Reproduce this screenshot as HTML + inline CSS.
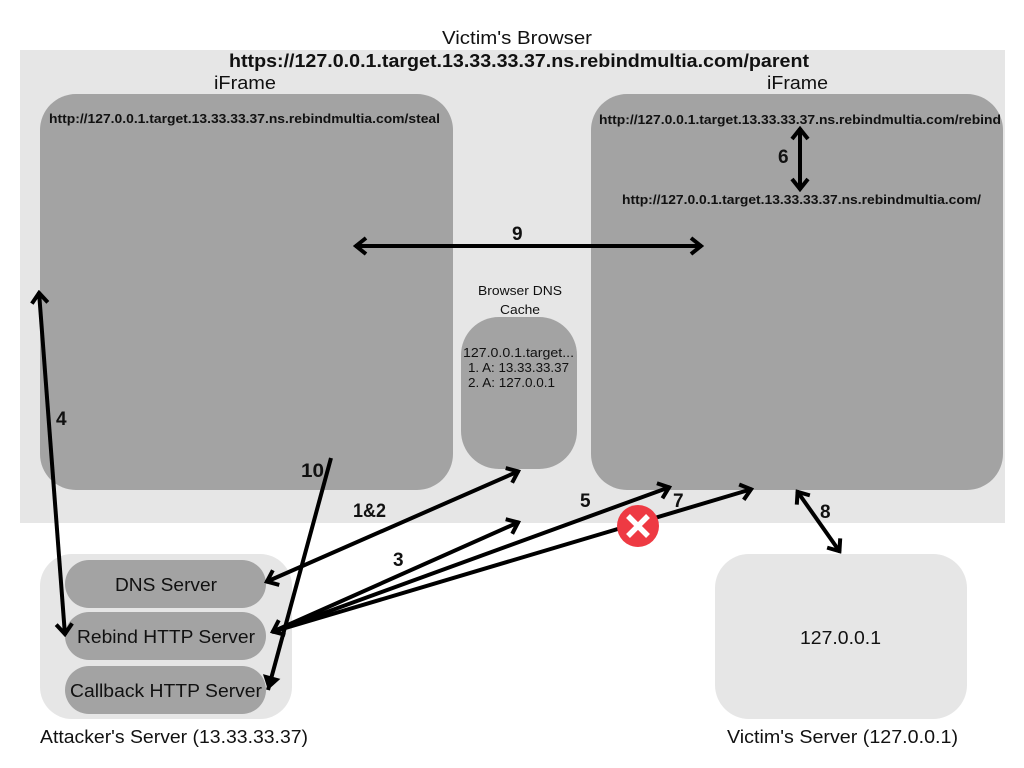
<!DOCTYPE html>
<html>
<head>
<meta charset="utf-8">
<style>
html,body{margin:0;padding:0;background:#fff;width:1024px;height:768px;overflow:hidden}
svg{display:block}
text{font-family:"Liberation Sans",sans-serif;fill:#111}
.b{font-weight:bold}
.a{stroke:#000;stroke-width:4;fill:none;stroke-linecap:butt;stroke-linejoin:miter}
</style>
</head>
<body>
<svg width="1024" height="768" viewBox="0 0 1024 768" xmlns="http://www.w3.org/2000/svg">
<defs>
<marker id="h" viewBox="0 0 16 20" refX="14" refY="10" markerWidth="16" markerHeight="20" markerUnits="userSpaceOnUse" orient="auto-start-reverse">
<path d="M3 2 L13 10 L3 18" fill="none" stroke="#000" stroke-width="4"/>
</marker>
<marker id="f" viewBox="0 0 16 20" refX="15" refY="10" markerWidth="16" markerHeight="20" markerUnits="userSpaceOnUse" orient="auto">
<path d="M1 1 L15 10 L1 19 Z" fill="#000"/>
</marker>
</defs>

<rect x="20" y="50" width="985" height="473" fill="#e6e6e6"/>
<rect x="40" y="94" width="413" height="396" rx="36" fill="#a3a3a3"/>
<rect x="591" y="94" width="412" height="396" rx="36" fill="#a3a3a3"/>
<rect x="461" y="317" width="116" height="152" rx="38" fill="#a3a3a3"/>

<rect x="40" y="554" width="252" height="165" rx="32" fill="#e6e6e6"/>
<rect x="65" y="560" width="201" height="48" rx="24" fill="#a3a3a3"/>
<rect x="65" y="612" width="201" height="48" rx="24" fill="#a3a3a3"/>
<rect x="65" y="666" width="201" height="48" rx="24" fill="#a3a3a3"/>
<rect x="715" y="554" width="252" height="165" rx="34" fill="#e6e6e6"/>

<text x="442" y="44" font-size="18" textLength="150" lengthAdjust="spacingAndGlyphs">Victim's Browser</text>
<text class="b" x="229" y="67" font-size="18" textLength="580" lengthAdjust="spacingAndGlyphs">https://127.0.0.1.target.13.33.33.37.ns.rebindmultia.com/parent</text>
<text x="214" y="89" font-size="18" textLength="62" lengthAdjust="spacingAndGlyphs">iFrame</text>
<text x="767" y="89" font-size="18" textLength="61" lengthAdjust="spacingAndGlyphs">iFrame</text>
<text class="b" x="49" y="123" font-size="13" textLength="391" lengthAdjust="spacingAndGlyphs">http://127.0.0.1.target.13.33.33.37.ns.rebindmultia.com/steal</text>
<text class="b" x="599" y="124" font-size="13" textLength="402" lengthAdjust="spacingAndGlyphs">http://127.0.0.1.target.13.33.33.37.ns.rebindmultia.com/rebind</text>
<text class="b" x="622" y="204" font-size="13" textLength="359" lengthAdjust="spacingAndGlyphs">http://127.0.0.1.target.13.33.33.37.ns.rebindmultia.com/</text>

<text x="478" y="295" font-size="13" textLength="84" lengthAdjust="spacingAndGlyphs">Browser DNS</text>
<text x="500" y="314" font-size="13" textLength="40" lengthAdjust="spacingAndGlyphs">Cache</text>
<text x="463" y="357" font-size="13" textLength="111" lengthAdjust="spacingAndGlyphs">127.0.0.1.target...</text>
<text x="468" y="372" font-size="13" textLength="101" lengthAdjust="spacingAndGlyphs">1. A: 13.33.33.37</text>
<text x="468" y="387" font-size="13" textLength="87" lengthAdjust="spacingAndGlyphs">2. A: 127.0.0.1</text>

<text x="115" y="591" font-size="18" textLength="102" lengthAdjust="spacingAndGlyphs">DNS Server</text>
<text x="77" y="643" font-size="18" textLength="178" lengthAdjust="spacingAndGlyphs">Rebind HTTP Server</text>
<text x="70" y="697" font-size="18" textLength="192" lengthAdjust="spacingAndGlyphs">Callback HTTP Server</text>
<text x="800" y="644" font-size="18" textLength="81" lengthAdjust="spacingAndGlyphs">127.0.0.1</text>
<text x="40" y="743" font-size="18" textLength="268" lengthAdjust="spacingAndGlyphs">Attacker's Server (13.33.33.37)</text>
<text x="727" y="743" font-size="18" textLength="231" lengthAdjust="spacingAndGlyphs">Victim's Server (127.0.0.1)</text>

<line class="a" x1="355" y1="246" x2="702" y2="246" marker-start="url(#h)" marker-end="url(#h)"/>
<line class="a" x1="800" y1="128" x2="800" y2="190" marker-start="url(#h)" marker-end="url(#h)"/>
<line class="a" x1="39" y1="292" x2="65" y2="635" marker-start="url(#h)" marker-end="url(#h)"/>
<line class="a" x1="331" y1="458" x2="268" y2="690" marker-end="url(#f)"/>
<line class="a" x1="519" y1="471" x2="266" y2="582" marker-start="url(#h)" marker-end="url(#h)"/>
<line class="a" x1="272" y1="632" x2="519" y2="522" marker-start="url(#h)" marker-end="url(#h)"/>
<line class="a" x1="272" y1="632" x2="670" y2="487" marker-end="url(#h)"/>
<line class="a" x1="272" y1="632" x2="752" y2="489" marker-end="url(#h)"/>
<line class="a" x1="797" y1="491" x2="840" y2="552" marker-start="url(#h)" marker-end="url(#h)"/>

<circle cx="638" cy="526" r="21" fill="#ee3a43"/>
<path d="M628 516 L648 536 M648 516 L628 536" stroke="#fff" stroke-width="5.5" fill="none"/>

<text class="b" x="778" y="163" font-size="19">6</text>
<text class="b" x="512" y="240" font-size="19">9</text>
<text class="b" x="56" y="425" font-size="19">4</text>
<text class="b" x="301" y="477" font-size="19" textLength="23" lengthAdjust="spacingAndGlyphs">10</text>
<text class="b" x="353" y="517" font-size="19" textLength="33" lengthAdjust="spacingAndGlyphs">1&amp;2</text>
<text class="b" x="393" y="566" font-size="19">3</text>
<text class="b" x="580" y="507" font-size="19">5</text>
<text class="b" x="673" y="507" font-size="19">7</text>
<text class="b" x="820" y="518" font-size="19">8</text>
</svg>
</body>
</html>
